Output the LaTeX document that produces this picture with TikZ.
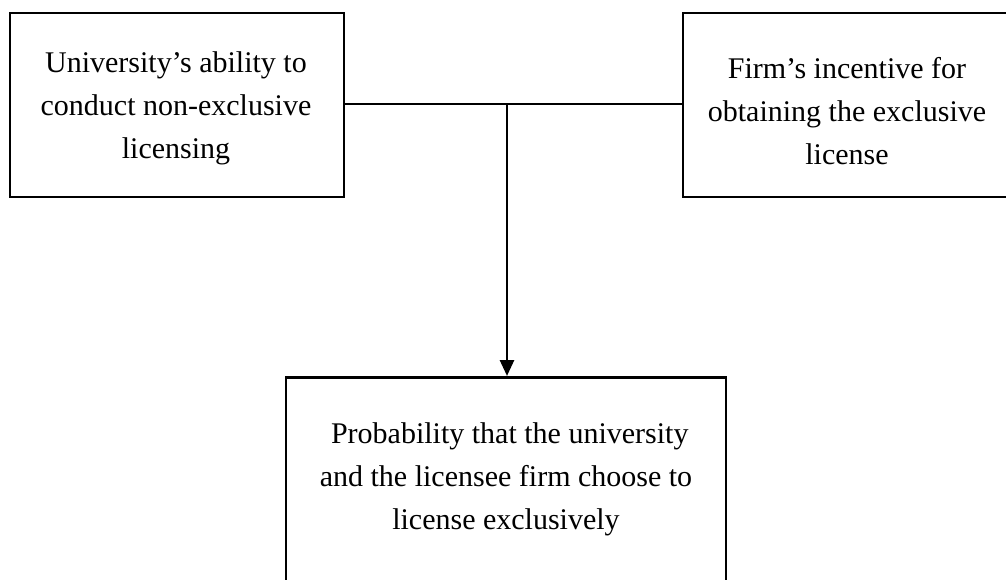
\documentclass[tikz,border=0pt]{standalone}
\usepackage{fontspec}
\setmainfont{Liberation Serif}
\usetikzlibrary{arrows.meta}
\begin{document}
\begin{tikzpicture}[x=0.75pt,y=-0.75pt,
  box/.style={draw=black, line width=1.9pt, inner sep=0pt},
  txt/.style={align=center, font=\fontsize{22.5}{32.3}\selectfont, inner sep=0pt},
  conn/.style={line width=2pt}]
\useasboundingbox (0,0) rectangle (1006,579);
\clip (0,0) rectangle (1006,579);
\fill[white] (0,0) rectangle (1006,579);
\node[box, minimum width=250.5pt, minimum height=138pt] (a) at (177,105) {};
\node[txt] (ta) at (176,108) {University’s ability to\\conduct non-exclusive\\licensing};
\node[box, minimum width=246pt, minimum height=138pt] (b) at (847,105) {};
\node[txt] (tb) at (847,111) {Firm’s incentive for\\obtaining the exclusive\\license};
\node[box, minimum width=330pt, minimum height=180pt, anchor=north] (c) at (506,376) {};
\node[txt] (tc) at (506,479) {\ Probability that the university\\and the licensee firm choose to\\license exclusively};
\coordinate (j) at (507,104);
\draw[conn] (a.east |- j) -- (b.west |- j);
\draw[conn, -{Triangle[length=12pt,width=10.5pt]}] (j) -- (j |- c.north);
\end{tikzpicture}
\end{document}
